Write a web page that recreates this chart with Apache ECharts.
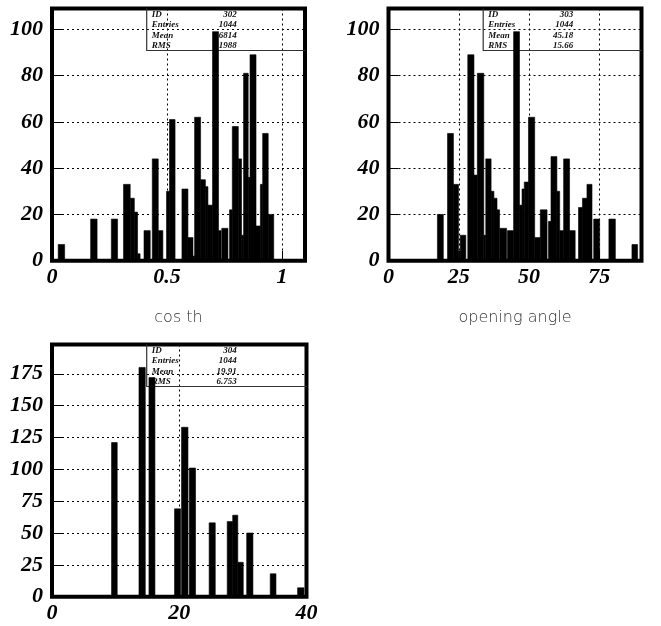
<!DOCTYPE html>
<html>
<head>
<meta charset="utf-8">
<script src="https://cdn.jsdelivr.net/npm/echarts@6/dist/echarts.min.js"></script>
<style>
html,body{margin:0;padding:0;background:#fff;}
#chart{width:661px;height:626px;}
</style>
</head>
<body>
<div id="chart"></div>
<script>
// ---- Data ----
// Histogram 302: cos th  (bin low edge, bin high edge, count)
var cosLo    = [0.027,0.168,0.258,0.311,0.340,0.358,0.372,0.400,0.436,0.462,0.498,0.511,0.565,0.591,0.613,0.620,0.646,0.667,0.678,0.698,0.724,0.738,0.772,0.784,0.810,0.824,0.833,0.853,0.861,0.887,0.906,0.916,0.940];
var cosHi    = [0.055,0.196,0.285,0.340,0.358,0.372,0.383,0.427,0.462,0.482,0.511,0.535,0.591,0.613,0.620,0.646,0.667,0.678,0.698,0.724,0.735,0.765,0.784,0.810,0.824,0.833,0.853,0.861,0.887,0.906,0.916,0.940,0.964];
var cosCount = [7,18,18,33,27,21,3,13,44,13,30,61,31,10,2,62,35,32,24,99,13,14,22,58,44,11,81,36,89,15,33,55,20];

// Histogram 303: opening angle
var angLo    = [17.4,21.0,23.1,24.9,25.5,28.2,30.4,31.6,33.9,34.6,36.5,37.5,38.6,39.6,42.3,44.5,46.6,47.5,48.3,49.8,52.0,54.0,56.9,57.8,59.9,60.9,62.3,64.4,67.6,69.0,70.6,73.0,78.4,86.6];
var angHi    = [19.5,23.1,24.9,25.5,27.5,30.4,31.6,33.9,34.6,36.5,37.5,38.6,39.5,42.0,44.5,46.6,47.5,48.3,49.8,52.0,54.0,56.4,57.8,59.9,60.9,62.3,64.4,66.4,69.0,70.6,72.4,75.1,80.7,88.6];
var angCount = [20,55,33,4,11,89,37,81,11,44,30,27,22,14,13,99,24,31,34,62,10,22,17,45,30,13,44,13,23,27,33,18,18,7];

// Histogram 304
var h3Lo    = [9.36,13.67,15.24,19.26,20.36,21.57,24.70,27.54,28.40,29.20,30.60,34.30,38.60];
var h3Hi    = [10.25,14.66,16.18,20.20,21.37,22.56,25.66,28.40,29.20,30.06,31.58,35.20,39.60];
var h3Count = [121,180,172,69,133,101,58,59,64,27,50,18,7];

// Axis titles and stats boxes
var xTitles = ['cos th', 'opening angle', ''];
var statLabels = ['ID', 'Entries', 'Mean', 'RMS'];
var stats302 = ['302', '1044', '.6814', '.1988'];
var stats303 = ['303', '1044', '45.18', '15.66'];
var stats304 = ['304', '1044', '19.91', '6.753'];

// Axis ranges / tick intervals
var xMax = [1.1, 90, 40];
var xInterval = [0.5, 25, 20];
var yMax = [109, 109, 198];
var yInterval = [20, 20, 25];

// ---- Layout ----
var grids = [
  {left: 52, top: 8.5, width: 253, height: 252.2},
  {left: 388.5, top: 8.5, width: 253, height: 252.2},
  {left: 52, top: 344.5, width: 254.5, height: 252.2}
];

function build(lo, hi, cnt) {
  var d = [];
  for (var i = 0; i < cnt.length; i++) d.push([lo[i], hi[i], cnt[i]]);
  return d;
}
var datasets = [build(cosLo, cosHi, cosCount), build(angLo, angHi, angCount), build(h3Lo, h3Hi, h3Count)];
var statVals = [stats302, stats303, stats304];

var tickFont = {fontFamily: 'Liberation Serif', fontWeight: 'bold', fontStyle: 'italic', fontSize: 22, color: '#000'};

var xAxes = [], yAxes = [], series = [], graphics = [];
for (var g = 0; g < 3; g++) {
  xAxes.push({
    type: 'value', gridIndex: g, min: 0, max: xMax[g], interval: xInterval[g],
    axisLine: {show: false},
    axisTick: {show: true, inside: true, length: 10, lineStyle: {color: '#000', width: 1}},
    splitLine: {show: true, lineStyle: {color: '#000', width: 1, type: [2, 3]}},
    axisLabel: Object.assign({margin: 6, showMaxLabel: xMax[g] % xInterval[g] === 0}, tickFont),
    name: xTitles[g], nameLocation: 'middle', nameGap: 49,
    nameTextStyle: {fontFamily: 'DejaVu Sans', fontWeight: 200, fontSize: 16, color: '#333'}
  });
  yAxes.push({
    type: 'value', gridIndex: g, min: 0, max: yMax[g], interval: yInterval[g],
    axisLine: {show: false},
    axisTick: {show: true, inside: true, length: 10, lineStyle: {color: '#000', width: 1}},
    splitLine: {show: true, lineStyle: {color: '#000', width: 1, type: [2, 3]}},
    axisLabel: Object.assign({margin: 9, showMaxLabel: false}, tickFont)
  });
  series.push({
    type: 'custom', xAxisIndex: g, yAxisIndex: g, z: 3,
    encode: {x: [0, 1], y: 2},
    data: datasets[g],
    renderItem: function (params, api) {
      var p0 = api.coord([api.value(0), 0]);
      var p1 = api.coord([api.value(1), api.value(2)]);
      return {type: 'rect', shape: {x: p0[0], y: p1[1], width: p1[0] - p0[0], height: p0[1] - p1[1]},
              style: {fill: '#000', stroke: '#000', lineWidth: 0.6}};
    }
  });
  // stats box
  var gr = grids[g];
  var bx = gr.left + 94.7, by = gr.top, bw = gr.left + gr.width - bx, bh = 42;
  graphics.push({type: 'polyline', z: 2, silent: true,
    shape: {points: [[bx, by], [bx, by + bh], [bx + bw, by + bh]]},
    style: {stroke: '#333', lineWidth: 1.2, fill: null}});
  for (var r = 0; r < 4; r++) {
    var ty = by + 5.8 + r * 10.5;
    graphics.push({type: 'text', z: 2, silent: true, x: bx + 5, y: ty,
      style: {text: statLabels[r], fontFamily: 'Liberation Serif', fontWeight: 'bold', fontStyle: 'italic',
              fontSize: 9, fill: '#111', verticalAlign: 'middle', align: 'left'}});
    graphics.push({type: 'text', z: 2, silent: true, x: bx + 90, y: ty,
      style: {text: statVals[g][r], fontFamily: 'Liberation Serif', fontWeight: 'bold', fontStyle: 'italic',
              fontSize: 9, fill: '#111', verticalAlign: 'middle', align: 'right'}});
  }
}

var chart = echarts.init(document.getElementById('chart'), null, {renderer: 'canvas'});
chart.setOption({
  animation: false,
  backgroundColor: '#fff',
  grid: grids.map(function (gr) {
    return Object.assign({show: true, borderColor: '#000', borderWidth: 4, backgroundColor: 'transparent', containLabel: false}, gr);
  }),
  xAxis: xAxes,
  yAxis: yAxes,
  series: series,
  graphic: graphics
});
</script>
</body>
</html>
